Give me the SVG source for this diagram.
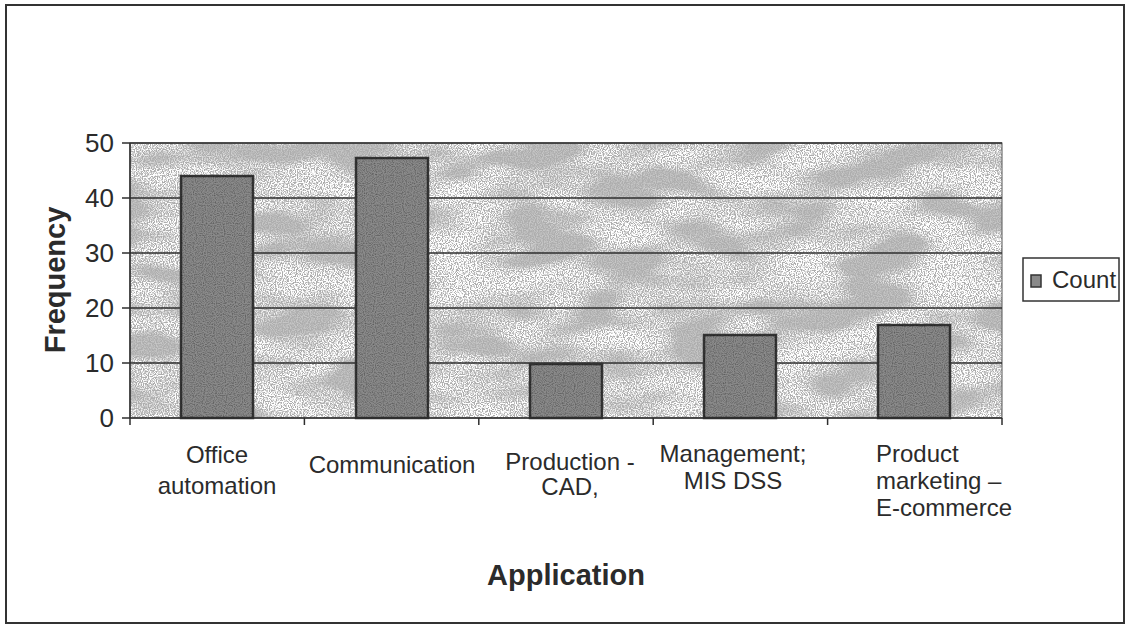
<svg xmlns="http://www.w3.org/2000/svg" width="1127" height="625" viewBox="0 0 1127 625">
<style>
  text { font-family: "Liberation Sans", Arial, sans-serif; fill: #2b2b2b; }
  .tick { font-size: 26px; text-anchor: end; }
  .cat { font-size: 24px; text-anchor: middle; }
  .catl { font-size: 24px; text-anchor: start; }
  .title { font-size: 29px; font-weight: bold; text-anchor: middle; }
  .grid { stroke: #2e2e2e; stroke-width: 1.6; }
  .axis { stroke: #2e2e2e; stroke-width: 1.5; fill: none; }
  .bar { fill: #8a8a8a; stroke: #333; stroke-width: 2.5; }
</style>
<defs>
  <filter id="speckle" x="0" y="0" width="100%" height="100%">
    <feTurbulence type="fractalNoise" baseFrequency="0.85" numOctaves="1" seed="3" result="fine"/>
    <feColorMatrix in="fine" type="matrix" values="0 0 0 0 1  0 0 0 0 1  0 0 0 0 1  4 0 0 0 -1.6" result="fineA"/>
    <feTurbulence type="fractalNoise" baseFrequency="0.012 0.03" numOctaves="2" seed="7" result="coarse"/>
    <feColorMatrix in="coarse" type="matrix" values="0 0 0 0 1  0 0 0 0 1  0 0 0 0 1  3 0 0 0 -1.1" result="coarseA"/>
    <feComposite in="fineA" in2="coarseA" operator="arithmetic" k1="1.6" k2="0.3" k3="0" k4="0"/>
  </filter>
  <filter id="grain" x="0" y="0" width="100%" height="100%">
    <feTurbulence type="fractalNoise" baseFrequency="0.9" numOctaves="1" seed="11" result="n"/>
    <feColorMatrix in="n" type="matrix" values="0 0 0 0 0  0 0 0 0 0  0 0 0 0 0  1.6 0 0 0 -0.65"/>
  </filter>
</defs>

<g id="frame">
  <rect x="6" y="5" width="1118" height="618" fill="#ffffff" stroke="#333" stroke-width="2"/>
</g>

<g id="plot-area">
  <rect x="130" y="143" width="872" height="275" fill="#adadad"/>
  <rect x="130" y="143" width="872" height="275" fill="#fff" filter="url(#speckle)"/>
  <rect x="130" y="143" width="872" height="275" fill="none" stroke="#555" stroke-width="1"/>
</g>

<g id="gridlines">
  <line class="grid" x1="130" y1="143" x2="1002" y2="143"/>
  <line class="grid" x1="130" y1="198" x2="1002" y2="198"/>
  <line class="grid" x1="130" y1="253" x2="1002" y2="253"/>
  <line class="grid" x1="130" y1="308" x2="1002" y2="308"/>
  <line class="grid" x1="130" y1="363" x2="1002" y2="363"/>
</g>

<g id="bars">
  <g id="bar-office">
    <rect class="bar" x="181" y="176" width="72" height="242"/>
    <rect x="181" y="176" width="72" height="242" fill="#000" filter="url(#grain)" opacity="0.5"/>
  </g>
  <g id="bar-communication">
    <rect class="bar" x="356" y="158" width="72" height="260"/>
    <rect x="356" y="158" width="72" height="260" fill="#000" filter="url(#grain)" opacity="0.5"/>
  </g>
  <g id="bar-production">
    <rect class="bar" x="530" y="364" width="72" height="54"/>
    <rect x="530" y="364" width="72" height="54" fill="#000" filter="url(#grain)" opacity="0.5"/>
  </g>
  <g id="bar-management">
    <rect class="bar" x="704" y="335" width="72" height="83"/>
    <rect x="704" y="335" width="72" height="83" fill="#000" filter="url(#grain)" opacity="0.5"/>
  </g>
  <g id="bar-marketing">
    <rect class="bar" x="878" y="325" width="72" height="93"/>
    <rect x="878" y="325" width="72" height="93" fill="#000" filter="url(#grain)" opacity="0.5"/>
  </g>
</g>

<g id="axes">
  <line class="axis" x1="130" y1="143" x2="130" y2="418"/>
  <line class="axis" x1="122" y1="418" x2="1002" y2="418"/>
  <line class="axis" x1="122" y1="143" x2="130" y2="143"/>
  <line class="axis" x1="122" y1="198" x2="130" y2="198"/>
  <line class="axis" x1="122" y1="253" x2="130" y2="253"/>
  <line class="axis" x1="122" y1="308" x2="130" y2="308"/>
  <line class="axis" x1="122" y1="363" x2="130" y2="363"/>
  <line class="axis" x1="130" y1="418" x2="130" y2="425"/>
  <line class="axis" x1="304.4" y1="418" x2="304.4" y2="425"/>
  <line class="axis" x1="478.8" y1="418" x2="478.8" y2="425"/>
  <line class="axis" x1="653.2" y1="418" x2="653.2" y2="425"/>
  <line class="axis" x1="827.6" y1="418" x2="827.6" y2="425"/>
  <line class="axis" x1="1002" y1="418" x2="1002" y2="425"/>
</g>

<g id="y-tick-labels">
  <text class="tick" x="114" y="152">50</text>
  <text class="tick" x="114" y="207">40</text>
  <text class="tick" x="114" y="262">30</text>
  <text class="tick" x="114" y="317">20</text>
  <text class="tick" x="114" y="372">10</text>
  <text class="tick" x="114" y="427">0</text>
</g>

<g id="x-labels">
  <text class="cat" x="217" y="463">Office</text>
  <text class="cat" x="217" y="494">automation</text>
  <text class="cat" x="392" y="473">Communication</text>
  <text class="cat" x="570" y="470">Production -</text>
  <text class="cat" x="570" y="495">CAD,</text>
  <text class="cat" x="733" y="462">Management;</text>
  <text class="cat" x="733" y="489">MIS DSS</text>
  <text class="catl" x="876" y="462">Product</text>
  <text class="catl" x="876" y="489">marketing –</text>
  <text class="catl" x="876" y="516">E-commerce</text>
</g>

<g id="axis-titles">
  <text class="title" x="566" y="585">Application</text>
  <text class="title" transform="translate(65,280) rotate(-90)" x="0" y="0">Frequency</text>
</g>

<g id="legend">
  <rect x="1023" y="258" width="96" height="43" fill="#fff" stroke="#333" stroke-width="1.5"/>
  <rect x="1031" y="275" width="10" height="12" fill="#8a8a8a" stroke="#333" stroke-width="1.5"/>
  <text x="1052" y="288" font-size="24">Count</text>
</g>
</svg>
